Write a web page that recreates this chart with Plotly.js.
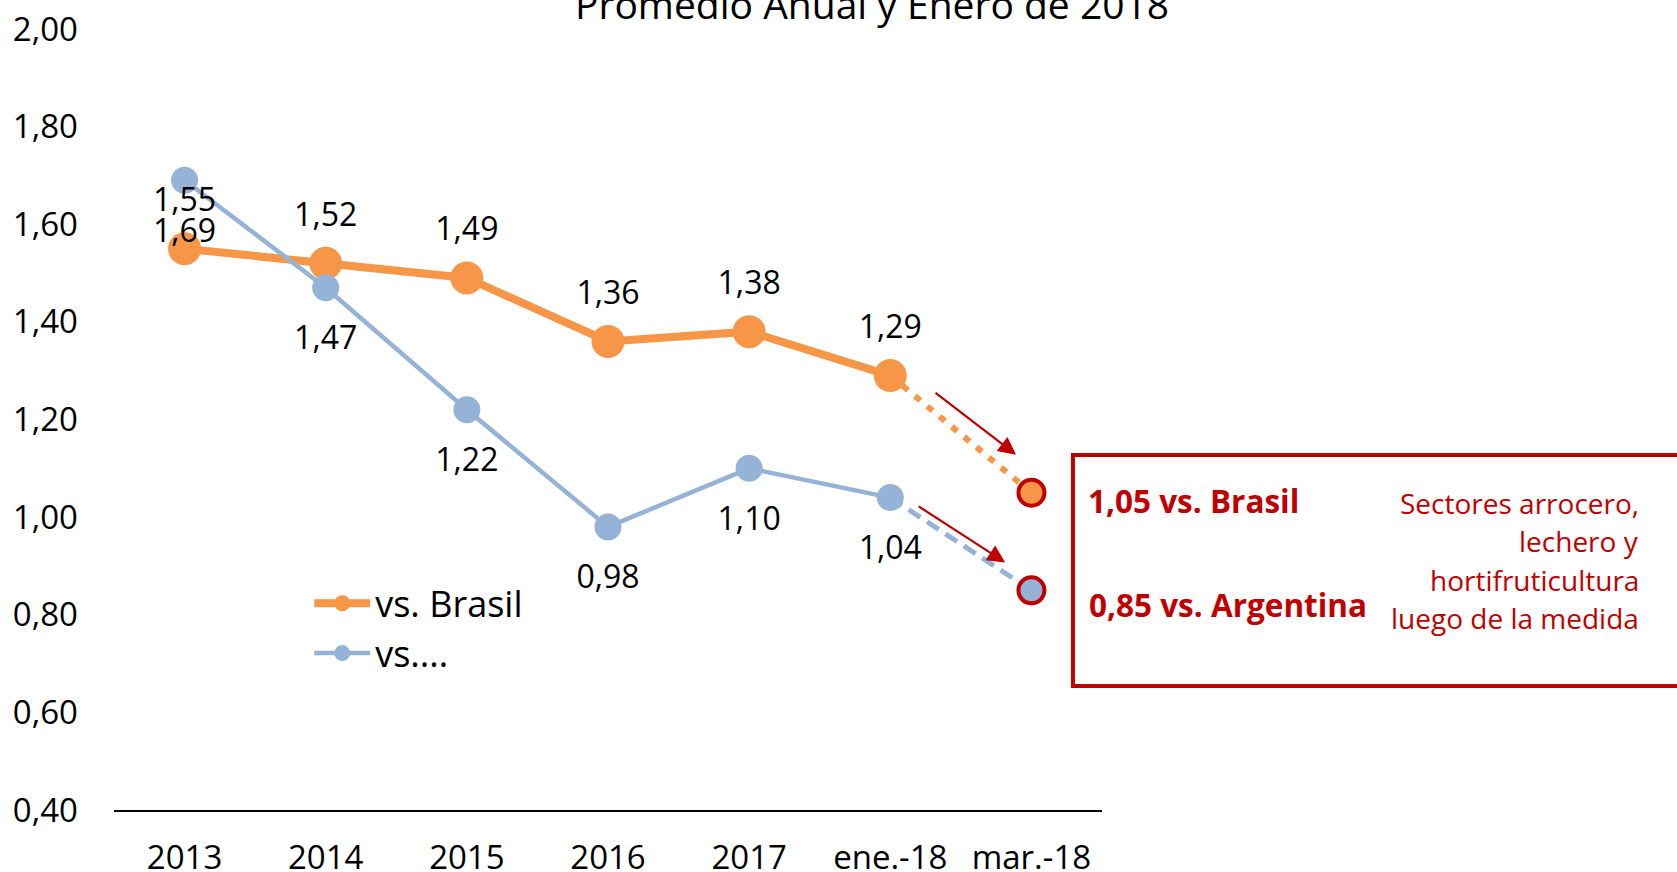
<!DOCTYPE html>
<html><head><meta charset="utf-8">
<script src="https://cdn.plot.ly/plotly-3.0.1.min.js"></script>
<style>html,body{margin:0;padding:0;background:#fff;} #chart{width:1677px;height:872px;}</style>
</head><body><div id="chart"></div>
<script>
// ---- data ----
const categories = ['2013','2014','2015','2016','2017','ene.-18','mar.-18'];
const brasil = [1.55,1.52,1.49,1.36,1.38,1.29,1.05];
const argentina = [1.69,1.47,1.22,0.98,1.10,1.04,0.85];
const yTicks = [0.4,0.6,0.8,1.0,1.2,1.4,1.6,1.8,2.0];
const seriesNames = ['vs. Brasil','vs....'];
const boxLabels = ['vs. Brasil','vs. Argentina'];
const titleText = 'Promedio Anual y Enero de 2018';
const noteLines = ['Sectores arrocero,','lechero y','hortifruticultura','luego de la medida'];

// ---- styles ----
const ORANGE='#F79646', BLUE='#95B3D7', RED='#C00000';
const FONT='"Open Sans", sans-serif';
const fmt = v => v.toFixed(2).replace('.', ',');
const nSolid = 6;
const last = categories.length - 1;

const traces = [
  {x: categories.slice(nSolid-1), y: brasil.slice(nSolid-1), mode:'lines', showlegend:false, hoverinfo:'skip',
   line:{color:ORANGE, width:6, dash:'7px,9px'}},
  {x: categories.slice(nSolid-1), y: argentina.slice(nSolid-1), mode:'lines', showlegend:false, hoverinfo:'skip',
   line:{color:BLUE, width:5, dash:'14px,8px'}},
  {x: categories.slice(0,nSolid), y: brasil.slice(0,nSolid), mode:'lines+markers', name:seriesNames[0], legendgroup:'a',
   line:{color:ORANGE, width:8}, marker:{color:ORANGE, size:33}},
  {x: categories.slice(0,nSolid), y: argentina.slice(0,nSolid), mode:'lines+markers', name:seriesNames[1], legendgroup:'b',
   line:{color:BLUE, width:4.5}, marker:{color:BLUE, size:27}},
  {x: [categories[last], categories[last]], y: [brasil[last], argentina[last]], mode:'markers', showlegend:false, hoverinfo:'skip',
   marker:{color:[ORANGE, BLUE], size:26, line:{color:RED, width:4}}},
  {x: categories.slice(0,nSolid), y: brasil.slice(0,nSolid), mode:'markers+text', showlegend:false, hoverinfo:'skip',
   text: brasil.slice(0,nSolid).map(fmt), textposition:'top center', textfont:{family:FONT, size:32, color:'#000'},
   marker:{size:46, color:'rgba(0,0,0,0)'}},
  {x: categories.slice(0,nSolid), y: argentina.slice(0,nSolid), mode:'markers+text', showlegend:false, hoverinfo:'skip',
   text: argentina.slice(0,nSolid).map(fmt), textposition:'bottom center', textfont:{family:FONT, size:32, color:'#000'},
   marker:{size:58, color:'rgba(0,0,0,0)'}}
];

const noteY = [0.3935, 0.3442, 0.2949, 0.2456];
const noteAnnotations = noteLines.map((t, i) => ({
  text:t, xref:'paper', yref:'paper', x:1.5459, y:noteY[i], xanchor:'right', yanchor:'middle', align:'right',
  showarrow:false, font:{family:FONT, size:28, color:RED}
}));

const layout = {
  width:1677, height:872,
  margin:{l:114, r:575, t:29, b:62, pad:0},
  paper_bgcolor:'#fff', plot_bgcolor:'#fff',
  font:{family:FONT, size:32, color:'#000'},
  showlegend:true,
  legend:{x:0.1976, y:0.303, xanchor:'left', yanchor:'top', bgcolor:'rgba(0,0,0,0)',
          font:{family:FONT, size:36, color:'#000'}, itemwidth:56, tracegroupgap:0},
  xaxis:{type:'category', categoryarray:categories, range:[-0.5, 6.5], showline:true, linecolor:'#000', linewidth:2,
         showgrid:false, zeroline:false, ticks:'', tickfont:{family:FONT, size:33, color:'#000'}, ticklabelstandoff:17, fixedrange:true},
  yaxis:{range:[0.4, 2.0], tickvals:yTicks, ticktext:yTicks.map(fmt), showline:false, showgrid:false, zeroline:false,
         ticks:'', tickfont:{family:FONT, size:33, color:'#000'}, ticklabelstandoff:35, fixedrange:true},
  shapes:[
    {type:'rect', xref:'paper', yref:'paper', x0:0.9706, x1:1.62, y0:0.1588, y1:0.4545,
     line:{color:RED, width:4}, fillcolor:'rgba(0,0,0,0)'}
  ],
  annotations:[
    {text:titleText, xref:'paper', yref:'paper', x:0.767, y:1.0321, xanchor:'center', yanchor:'middle', showarrow:false,
     font:{family:FONT, size:39, color:'#000'}},
    {text:'', xref:'paper', yref:'paper', x:0.913, y:0.455, ax:-82, ay:-63, showarrow:true, arrowhead:2, arrowsize:1.6, arrowwidth:2.2, arrowcolor:RED},
    {text:'', xref:'paper', yref:'paper', x:0.902, y:0.317, ax:-88, ay:-57, showarrow:true, arrowhead:2, arrowsize:1.6, arrowwidth:2.2, arrowcolor:RED},
    {text:'<b>' + fmt(brasil[last]) + ' ' + boxLabels[0] + '</b>', xref:'paper', yref:'paper', x:0.9838, y:0.3969,
     xanchor:'left', yanchor:'middle', showarrow:false, font:{family:FONT, size:31.5, color:RED}},
    {text:'<b>' + fmt(argentina[last]) + ' ' + boxLabels[1] + '</b>', xref:'paper', yref:'paper', x:0.9848, y:0.2625,
     xanchor:'left', yanchor:'middle', showarrow:false, font:{family:FONT, size:31.5, color:RED}}
  ].concat(noteAnnotations)
};

Plotly.newPlot('chart', traces, layout, {displayModeBar:false, staticPlot:true});
</script>
</body></html>
